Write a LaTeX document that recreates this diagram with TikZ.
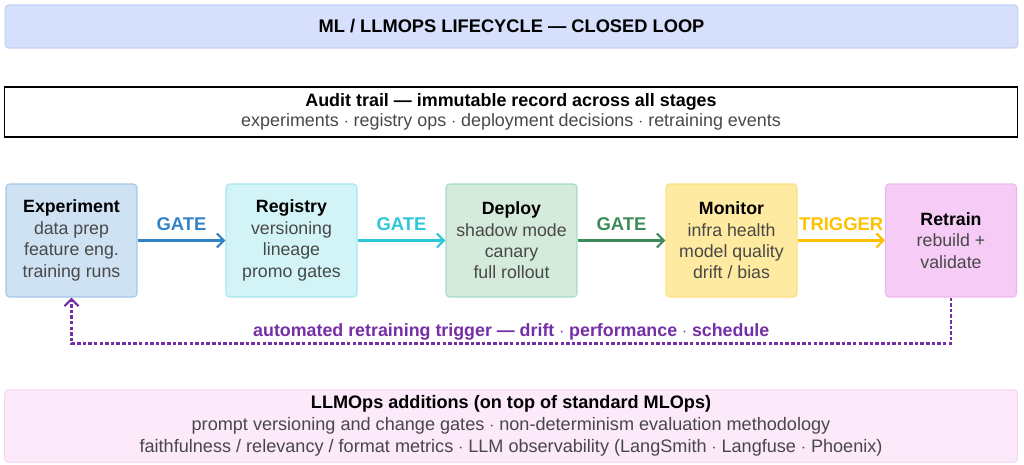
\documentclass[tikz,border=0pt]{standalone}
\usepackage{fontspec}
\setmainfont{Liberation Sans}
\usepackage{tikz}
\usetikzlibrary{arrows.meta}
\definecolor{titlefill}{RGB}{214, 223, 251}
\definecolor{titledraw}{RGB}{196, 207, 245}
\definecolor{expfill}{RGB}{207, 226, 243}
\definecolor{expdraw}{RGB}{160, 198, 232}
\definecolor{regfill}{RGB}{210, 244, 247}
\definecolor{regdraw}{RGB}{168, 229, 238}
\definecolor{depfill}{RGB}{212, 234, 219}
\definecolor{depdraw}{RGB}{168, 218, 200}
\definecolor{monfill}{RGB}{254, 234, 160}
\definecolor{mondraw}{RGB}{252, 224, 130}
\definecolor{retfill}{RGB}{246, 203, 246}
\definecolor{retdraw}{RGB}{236, 184, 236}
\definecolor{botfill}{RGB}{252, 233, 250}
\definecolor{botdraw}{RGB}{245, 211, 242}
\definecolor{gateblue}{RGB}{50, 130, 198}
\definecolor{gatecyan}{RGB}{45, 199, 216}
\definecolor{gategreen}{RGB}{61, 139, 90}
\definecolor{trigamber}{RGB}{255, 192, 0}
\definecolor{loopviolet}{RGB}{118, 46, 166}
\definecolor{bodygrey}{RGB}{72, 72, 72}

\begin{document}
\begin{tikzpicture}[x=0.02cm, y=-0.02cm,
    stage/.style={draw, rounded corners=2pt, line width=0.6pt, minimum width=2.62cm,
        minimum height=2.26cm, align=center, text=bodygrey, font=\fontsize{10.1}{12.2}\selectfont},
    band/.style={rounded corners=2pt, line width=0.6pt, minimum width=20.26cm, align=center},
    flow/.style={-{Straight Barb[length=4pt, width=8pt]}, line width=1.3pt},
    flowlabel/.style={above, font=\bfseries\fontsize{10.5}{12}\selectfont, inner sep=5pt}]
    \useasboundingbox (0,0) rectangle (1024,465);
    % 标题
    \node[band, fill=titlefill, draw=titledraw, minimum height=0.86cm,
        font=\bfseries\fontsize{10.4}{12}\selectfont] (title) at (511.5,26.5)
        {ML / LLMOPS LIFECYCLE --- CLOSED LOOP};
    % 审计
    \node[band, draw=black, rounded corners=0pt, line width=0.9pt, minimum height=1.0cm,
        font=\fontsize{10.2}{11.6}\selectfont, text=bodygrey] (audit) at (511,112)
        {\textbf{\color{black}Audit trail --- immutable record across all stages}\\
        experiments $\cdot$ registry ops $\cdot$ deployment decisions $\cdot$ retraining events};
    % 阶段
    \node[stage, fill=expfill, draw=expdraw] (exp) at (71.5,240.5)
        {\textbf{\color{black}Experiment}\\data prep\\feature eng.\\training runs};
    \node[stage, fill=regfill, draw=regdraw] (reg) at (291.5,240.5)
        {\textbf{\color{black}Registry}\\versioning\\lineage\\promo gates};
    \node[stage, fill=depfill, draw=depdraw] (dep) at (511.5,240.5)
        {\textbf{\color{black}Deploy}\\shadow mode\\canary\\full rollout};
    \node[stage, fill=monfill, draw=mondraw] (mon) at (731.5,240.5)
        {\textbf{\color{black}Monitor}\\infra health\\model quality\\drift / bias};
    \node[stage, fill=retfill, draw=retdraw] (ret) at (951,240.5)
        {\textbf{\color{black}Retrain}\\rebuild +\\validate};
    % 门控箭头
    \draw[flow, gateblue] (exp) -- node[flowlabel] {GATE} (reg);
    \draw[flow, gatecyan] (reg) -- node[flowlabel] {GATE} (dep);
    \draw[flow, gategreen] (dep) -- node[flowlabel] {GATE} (mon);
    \draw[flow, trigamber] (mon) -- node[flowlabel] {TRIGGER} (ret);
    % 回路
    \draw[loopviolet, line width=1.3pt, dash pattern=on 2pt off 1.2pt,
        -{Straight Barb[length=4pt, width=8pt]}]
        (ret.south) -- ++(0,46) coordinate (loopR)
        -- node[above, inner sep=1pt, font=\bfseries\fontsize{10.15}{12}\selectfont]
            {automated retraining trigger --- drift $\cdot$ performance $\cdot$ schedule}
        (loopR -| exp.south) coordinate (loopL) -- (exp.south);
    % LLMOps
    \node[band, fill=botfill, draw=botdraw, minimum height=1.32cm,
        font=\fontsize{10.3}{12.4}\selectfont, text=bodygrey] (llm) at (511,426)
        {\textbf{\color{black}LLMOps additions (on top of standard MLOps)}\\
        prompt versioning and change gates $\cdot$ non-determinism evaluation methodology\\
        faithfulness / relevancy / format metrics $\cdot$ LLM observability (LangSmith $\cdot$ Langfuse $\cdot$ Phoenix)};
\end{tikzpicture}
\end{document}
